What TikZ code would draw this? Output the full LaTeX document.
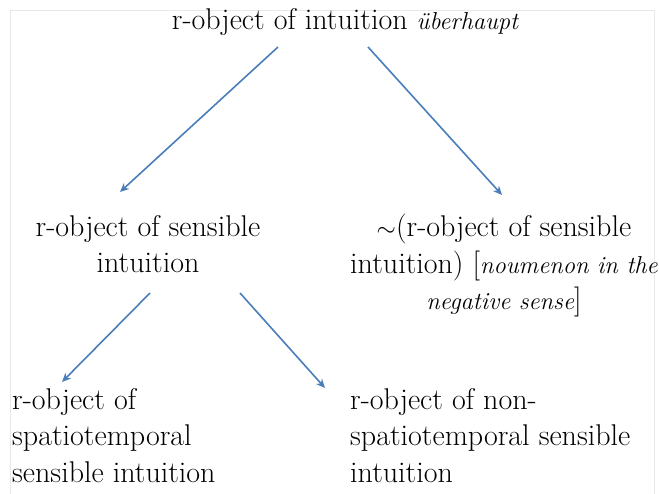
\documentclass[tikz,border=0pt]{standalone}
\usetikzlibrary{arrows.meta}
\definecolor{arrowblue}{HTML}{4A7EBB}
\definecolor{framegray}{HTML}{E8E8E8}
\newcommand\itx[1]{{\fontsize{24.5}{36.5}\selectfont\itshape #1}}
\begin{document}
\begin{tikzpicture}[x=1pt,y=-1pt,
  txt/.style={inner sep=0pt, font=\fontsize{30}{36.5}\selectfont},
  arr/.style={draw=arrowblue, line width=1.6pt, -{Stealth[length=9pt,width=8pt]}}]
\useasboundingbox (0,0) rectangle (659,494);
\draw[framegray, line width=0.8pt] (10,494) -- (10,10.5) -- (654,10.5) -- (654,494);
\node[txt, anchor=base] (top) at (345,30) {r-object of intuition \itx{überhaupt}};
\node[txt, anchor=base, align=center] (sens) at (148,273) {r-object of sensible\\intuition};
\node[txt, anchor=base, align=center] (neg) at (504,310) {$\sim$(r-object of sensible\\intuition) [\itx{noumenon in the}\\\itx{negative sense}]};
\node[txt, anchor=base west, align=left] (spt) at (12,482) {r-object of\\spatiotemporal\\sensible intuition};
\node[txt, anchor=base west, align=left] (nspt) at (350,482) {r-object of non-\\spatiotemporal sensible\\intuition};
\coordinate (a1s) at (278,47);
\coordinate (a1e) at (120,192);
\coordinate (a2s) at (368,47);
\coordinate (a2e) at (502,195);
\coordinate (a3s) at (150,293);
\coordinate (a3e) at (62,382);
\coordinate (a4s) at (240,293);
\coordinate (a4e) at (325,388);
\draw[arr] (a1s) -- (a1e);
\draw[arr] (a2s) -- (a2e);
\draw[arr] (a3s) -- (a3e);
\draw[arr] (a4s) -- (a4e);
\end{tikzpicture}
\end{document}
